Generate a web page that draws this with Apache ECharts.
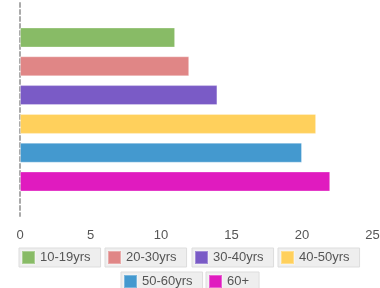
<!DOCTYPE html>
<html>
<head>
<meta charset="utf-8">
<script src="https://cdn.jsdelivr.net/npm/echarts@6/dist/echarts.min.js"></script>
<style>html,body{margin:0;padding:0;background:#fff}#c{width:380px;height:288px}</style>
</head>
<body>
<div id="c"></div>
<script>
var seriesNames = ['10-19yrs', '20-30yrs', '30-40yrs', '40-50yrs', '50-60yrs', '60+'];
var seriesValues = [11, 12, 14, 21, 20, 22];
var seriesColors = ['#88bb66', '#e08686', '#7a5bc6', '#ffd05c', '#4499cf', '#e01bbf'];
var xTicks = [0, 5, 10, 15, 20, 25];
var categories = [''];

var legendPos = [
  {left: 19, top: 248}, {left: 105, top: 248}, {left: 192, top: 248}, {left: 278, top: 248},
  {left: 121, top: 272}, {left: 206, top: 272}
];
var font = 'Liberation Sans, Arial, sans-serif';

var chart = echarts.init(document.getElementById('c'));
var series = seriesNames.map(function (n, i) {
  return {
    name: n, type: 'bar', data: [seriesValues[i]],
    barWidth: 20, barGap: '44%',
    itemStyle: {color: seriesColors[i], borderColor: 'rgba(255,255,255,0.3)', borderWidth: 1},
    emphasis: {disabled: true}, animation: false
  };
});
var legends = seriesNames.map(function (n, i) {
  return {
    data: [n], left: legendPos[i].left, top: legendPos[i].top, orient: 'horizontal',
    backgroundColor: '#eeeeee', borderColor: '#dddddd', borderWidth: 1, borderRadius: 0,
    padding: [2, 10, 2, 2], itemWidth: 13, itemHeight: 13, icon: 'rect',
    selectedMode: false,
    textStyle: {fontSize: 13, color: '#555', fontFamily: font}
  };
});
chart.setOption({
  animation: false,
  grid: {left: 20, right: 7.5, top: 3, bottom: 72, containLabel: false, outerBoundsMode: 'none'},
  xAxis: {
    type: 'value', min: xTicks[0], max: xTicks[xTicks.length - 1], interval: 5,
    axisLine: {show: false}, axisTick: {show: false}, splitLine: {show: false},
    axisLabel: {fontSize: 13, color: '#555', fontFamily: font, margin: 13}
  },
  yAxis: {
    type: 'category', data: categories, inverse: true,
    axisLine: {show: true, lineStyle: {color: '#aaaaaa', width: 2, type: [4, 3]}},
    axisTick: {show: false}, axisLabel: {show: false}
  },
  legend: legends,
  series: series
});
</script>
</body>
</html>
